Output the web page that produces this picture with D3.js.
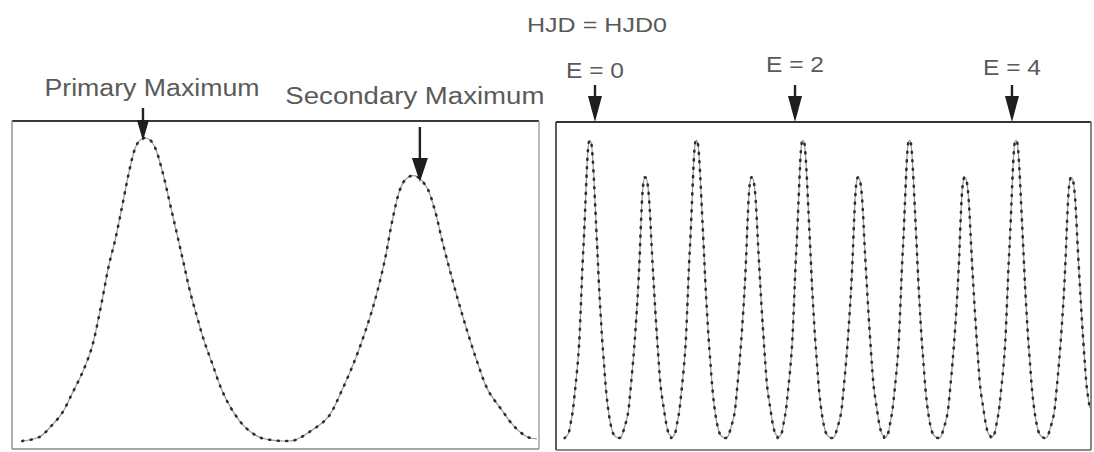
<!DOCTYPE html>
<html>
<head>
<meta charset="utf-8">
<script src="https://cdn.jsdelivr.net/npm/d3@7"></script>
<style>
  body { margin: 0; background: #fff; }
  text { font-family: "Liberation Sans", Arial, sans-serif; fill: #5a5a5a; }
</style>
</head>
<body>
<script>
// folded light curve (phase 0 = primary maximum), relative flux
const phase = [
  -0.238, -0.205, -0.180, -0.161, -0.141, -0.122, -0.103, -0.087, -0.070, -0.058,
  -0.045, -0.031, -0.019, -0.010, 0.000, 0.010, 0.019, 0.033, 0.052, 0.066,
  0.076, 0.087, 0.101, 0.114, 0.130, 0.149, 0.169, 0.194, 0.221, 0.246,
  0.271, 0.291, 0.324, 0.355, 0.382, 0.407, 0.426, 0.446, 0.465, 0.479,
  0.494, 0.504, 0.516, 0.529, 0.547, 0.562, 0.576, 0.591, 0.607, 0.626,
  0.645, 0.665, 0.692, 0.717, 0.742, 0.760
];
const flux = [
  0.000, 0.013, 0.053, 0.092, 0.158, 0.224, 0.310, 0.432, 0.581, 0.663,
  0.769, 0.888, 0.967, 0.993, 1.000, 0.993, 0.970, 0.894, 0.756, 0.653,
  0.578, 0.495, 0.409, 0.333, 0.257, 0.168, 0.102, 0.046, 0.013, 0.003,
  0.000, 0.003, 0.036, 0.079, 0.168, 0.267, 0.356, 0.465, 0.597, 0.723,
  0.828, 0.861, 0.875, 0.871, 0.835, 0.762, 0.663, 0.564, 0.465, 0.356,
  0.257, 0.168, 0.102, 0.046, 0.013, 0.007
];

// cycles shown in the right panel (HJD in units of the period from HJD0)
const cycleE = [0, 1, 2, 3, 4];
const epochE = [0.047, 1.925, 3.962];
const epochLabels = ["E = 0", "E = 2", "E = 4"];
const maxPhase = [-0.004, 0.533];
const maxLabels = ["Primary Maximum", "Secondary Maximum"];
const topLabel = "HJD = HJD0";

const W = 1094, H = 452;

const svg = d3.select("body").append("svg")
  .attr("width", W)
  .attr("height", H);

const xL = d3.scaleLinear().domain([-0.258, 0.764]).range([12, 539]);
const yL = d3.scaleLinear().domain([0, 1]).range([441, 138]);
const xR = d3.scaleLinear().domain([-0.319, 4.704]).range([556, 1091]);
const yR = d3.scaleLinear().domain([0, 1]).range([438, 140]);

// build the time series by laying the folded curve over each cycle
let series = [];
cycleE.forEach(e => {
  phase.forEach((p, i) => {
    const t = e + p;
    const last = series[series.length - 1];
    if (t < xR.domain()[0] || t > xR.domain()[1]) return;
    if (last && t - last[0] < 1e-4) return;
    series.push([t, flux[i]]);
  });
});
const folded = phase.map((p, i) => [p, flux[i]]);

const defs = svg.append("defs");
defs.append("clipPath").attr("id", "clipL").append("rect")
  .attr("x", 12).attr("y", 121).attr("width", 527).attr("height", 328);
defs.append("clipPath").attr("id", "clipR").append("rect")
  .attr("x", 556).attr("y", 122).attr("width", 535).attr("height", 328);

function drawCurve(data, x, y, clip) {
  const line = d3.line()
    .x(d => x(d[0]))
    .y(d => y(d[1]))
    .curve(d3.curveCatmullRom.alpha(0.5));
  const g = svg.append("g").attr("clip-path", "url(#" + clip + ")");
  g.append("path")
    .datum(data)
    .attr("fill", "none")
    .attr("stroke", "#9a9a9a")
    .attr("stroke-width", 1.2)
    .attr("d", line);
  g.append("path")
    .datum(data)
    .attr("fill", "none")
    .attr("stroke", "#2e2e2e")
    .attr("stroke-width", 2.6)
    .attr("stroke-linecap", "round")
    .attr("stroke-dasharray", "1,7.5")
    .attr("d", line);
}

drawCurve(folded, xL, yL, "clipL");
drawCurve(series, xR, yR, "clipR");

// frames
function frame(x0, y0, x1, y1, cTop, cLeft, cRight, cBottom) {
  const f = svg.append("g").attr("fill", "none");
  f.append("line").attr("x1", x0).attr("x2", x1).attr("y1", y0).attr("y2", y0)
    .attr("stroke", cTop).attr("stroke-width", 2);
  f.append("line").attr("x1", x0).attr("x2", x0).attr("y1", y0).attr("y2", y1)
    .attr("stroke", cLeft).attr("stroke-width", 1.6);
  f.append("line").attr("x1", x1).attr("x2", x1).attr("y1", y0).attr("y2", y1)
    .attr("stroke", cRight).attr("stroke-width", 1.6);
  f.append("line").attr("x1", x0).attr("x2", x1).attr("y1", y1).attr("y2", y1)
    .attr("stroke", cBottom).attr("stroke-width", 1.6);
}
frame(xL.range()[0], 121, xL.range()[1], 449, "#3a3a3a", "#999", "#aaa", "#8a8a8a");
frame(xR.range()[0], 122, xR.range()[1], 450, "#333", "#333", "#666", "#666");

// arrows: shaft from y0, head from h0 down to tip
function arrow(x, y0, h0, tip, hw) {
  svg.append("line")
    .attr("x1", x).attr("x2", x).attr("y1", y0).attr("y2", h0 + 2)
    .attr("stroke", "#222").attr("stroke-width", 2.4);
  svg.append("path")
    .attr("d", `M${x - hw / 2},${h0} L${x + hw / 2},${h0} L${x},${tip} Z`)
    .attr("fill", "#1e1e1e");
}

function label(txt, cx, baseline, size, width) {
  svg.append("text")
    .attr("x", cx - width / 2)
    .attr("y", baseline)
    .attr("font-size", size)
    .attr("textLength", width)
    .attr("lengthAdjust", "spacingAndGlyphs")
    .text(txt);
}

// left panel maxima
const maxLayout = [
  { y0: 108, h0: 120, tip: 141, hw: 12, dx: 9, base: 96, w: 215 },
  { y0: 127, h0: 158, tip: 182, hw: 16, dx: -5, base: 104, w: 259 }
];
maxPhase.forEach((p, i) => {
  const L = maxLayout[i];
  arrow(xL(p), L.y0, L.h0, L.tip, L.hw);
  label(maxLabels[i], xL(p) + L.dx, L.base, 23, L.w);
});

// right panel epochs
const epochBase = [78, 72, 75];
epochE.forEach((e, i) => {
  arrow(xR(e), 85, 96, 122, 14);
  label(epochLabels[i], xR(e), epochBase[i], 22, 58);
});

label(topLabel, xR(epochE[0]) + 2, 32, 21, 140);
</script>
</body>
</html>
